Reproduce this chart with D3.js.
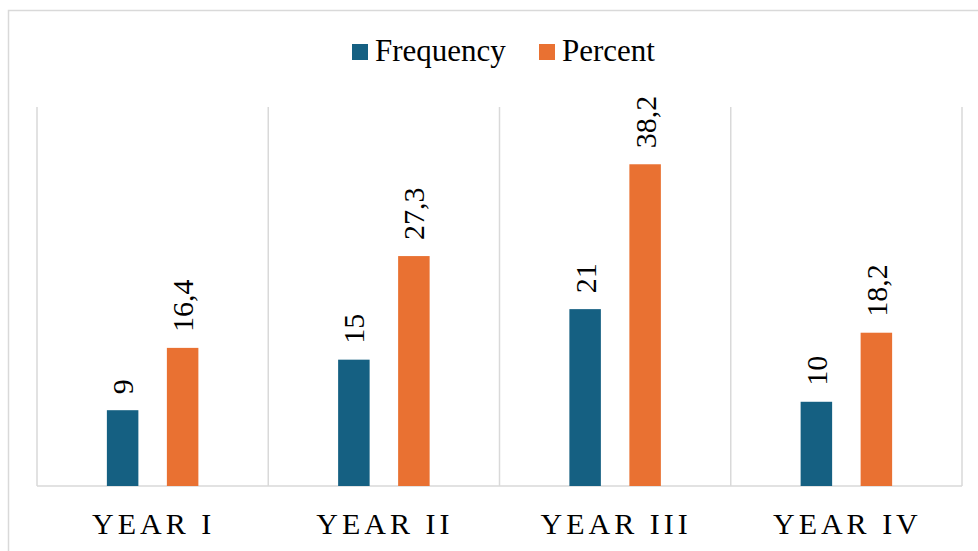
<!DOCTYPE html>
<html>
<head>
<meta charset="utf-8">
<script src="https://cdn.jsdelivr.net/npm/d3@7/dist/d3.min.js"></script>
<style>
  html, body { margin: 0; padding: 0; background: #fff; }
  svg { display: block; }
</style>
</head>
<body>
<svg id="chart" width="978" height="551"></svg>
<script>
// Students per year of study
const categories = ["YEAR I", "YEAR II", "YEAR III", "YEAR IV"];
const seriesNames = ["Frequency", "Percent"];
const frequency = [9, 15, 21, 10];
const percent = [16.4, 27.3, 38.2, 18.2];
const yMax = 45;

const colors = { Frequency: "#156082", Percent: "#E97132" };
const gridColor = "#d9d9d9";
const serif = "'Liberation Serif', 'Times New Roman', serif";

const svg = d3.select("#chart").style("font-family", serif);
const W = 978, H = 551;
const plot = { left: 37, right: 962, top: 107, bottom: 486 };

// Decimal comma for labels
const locale = d3.formatLocale({ decimal: ",", thousands: ".", grouping: [3], currency: ["", ""] });
const fmt = v => Number.isInteger(v) ? locale.format("d")(v) : locale.format(".1f")(v);

// Outer frame
svg.append("rect")
  .attr("x", 8.5).attr("y", 10.5)
  .attr("width", W + 10).attr("height", H + 10)
  .attr("fill", "none").attr("stroke", gridColor).attr("stroke-width", 1.5);

const x = d3.scaleBand().domain(categories).range([plot.left, plot.right]).padding(0);
const y = d3.scaleLinear().domain([0, yMax]).range([plot.bottom, plot.top]);
const xInner = d3.scaleBand().domain(seriesNames)
  .range([-45.75, 45.75]).paddingInner(0.475).paddingOuter(0);

// Category separators
const bounds = categories.map(c => x(c)).concat([x(categories[categories.length - 1]) + x.bandwidth()]);
svg.append("g").selectAll("line").data(bounds).join("line")
  .attr("x1", d => d).attr("x2", d => d)
  .attr("y1", plot.top).attr("y2", plot.bottom)
  .attr("stroke", gridColor).attr("stroke-width", 1.5);

// Baseline
svg.append("line")
  .attr("x1", plot.left).attr("x2", plot.right)
  .attr("y1", plot.bottom).attr("y2", plot.bottom)
  .attr("stroke", gridColor).attr("stroke-width", 1.5);

const rows = categories.map((c, i) => ({
  cat: c,
  values: [
    { key: "Frequency", value: frequency[i] },
    { key: "Percent", value: percent[i] }
  ]
}));

const groups = svg.append("g").selectAll("g").data(rows).join("g")
  .attr("transform", d => `translate(${x(d.cat) + x.bandwidth() / 2},0)`);

groups.selectAll("rect").data(d => d.values).join("rect")
  .attr("x", d => xInner(d.key))
  .attr("y", d => y(d.value))
  .attr("width", xInner.bandwidth())
  .attr("height", d => plot.bottom - y(d.value))
  .attr("fill", d => colors[d.key]);

groups.selectAll("text.val").data(d => d.values).join("text")
  .attr("class", "val")
  .attr("transform", d => `translate(${xInner(d.key) + xInner.bandwidth() / 2},${y(d.value) - 16}) rotate(-90)`)
  .attr("dy", "0.35em")
  .attr("text-anchor", "start")
  .style("font-family", serif)
  .style("font-size", "30px")
  .attr("fill", "#000")
  .text(d => fmt(d.value));

// Category axis labels
const axis = d3.axisBottom(x).tickSize(0).tickPadding(0);
const axisG = svg.append("g").attr("transform", `translate(0,${plot.bottom})`).call(axis);
axisG.select(".domain").remove();
axisG.selectAll("text")
  .attr("y", 48)
  .attr("dy", 0)
  .attr("dx", 1)
  .style("font-family", serif)
  .style("font-size", "30px")
  .style("letter-spacing", "4px")
  .attr("fill", "#000");

// Legend
const legendItems = [
  { key: "Frequency", sx: 352, tx: 375 },
  { key: "Percent", sx: 539, tx: 562 }
];
const lg = svg.append("g");
lg.selectAll("rect").data(legendItems).join("rect")
  .attr("x", d => d.sx).attr("y", 44)
  .attr("width", 16).attr("height", 16)
  .attr("fill", d => colors[d.key]);
lg.selectAll("text").data(legendItems).join("text")
  .attr("x", d => d.tx).attr("y", 61)
  .style("font-family", serif)
  .style("font-size", "31px")
  .attr("fill", "#000")
  .text(d => d.key);
</script>
</body>
</html>
